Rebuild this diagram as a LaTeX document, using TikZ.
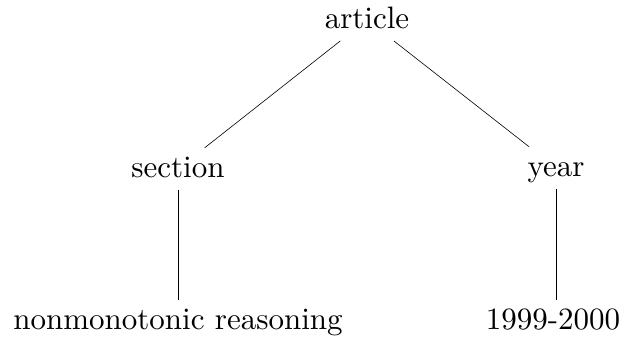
\documentclass[tikz,border=0pt]{standalone}
\usepackage{fontspec}
\setmainfont{lmroman10-regular}[Extension=.otf]
\begin{document}
\begin{tikzpicture}[x=1pt,y=-1pt,
  lbl/.style={anchor=base,inner sep=5pt,font=\fontsize{31}{37}\selectfont,
    text height=24pt,text depth=7.75pt},
  edge/.style={draw,line width=0.6pt}]
\useasboundingbox (0,0) rectangle (625,338);
\node[lbl] (article) at (367,28) {article};
\node[lbl] (section) at (178,177) {section};
\node[lbl] (year) at (556,176) {year};
\node[lbl] (nonmono) at (178,329) {nonmonotonic reasoning};
\node[lbl] (yrs) at (553,329) {1999-2000};
\draw[edge] (article) -- (section);
\draw[edge] (article) -- (year);
\draw[edge] (section) -- (nonmono);
\draw[edge] (year) -- (year |- yrs.north);
\end{tikzpicture}
\end{document}
